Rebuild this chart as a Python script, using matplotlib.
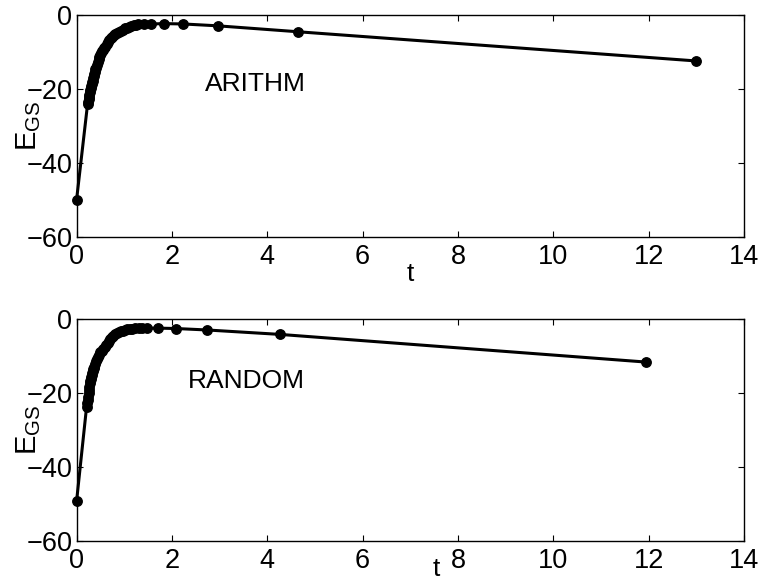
import matplotlib
matplotlib.use('Agg')
import matplotlib.pyplot as plt

plt.rcParams['font.family'] = ['Liberation Sans', 'DejaVu Sans']
plt.rcParams['mathtext.fontset'] = 'custom'
plt.rcParams['mathtext.rm'] = 'Liberation Sans'

# ARITHM schedule: temperature t vs ground state energy
t_arithm = [0.0, 0.23, 0.24, 0.25, 0.26, 0.27, 0.28, 0.29, 0.30, 0.31, 0.32,
            0.33, 0.34, 0.35, 0.36, 0.37, 0.38, 0.39, 0.40, 0.42, 0.44, 0.46,
            0.48, 0.50, 0.52, 0.54, 0.56, 0.58, 0.60, 0.63, 0.66, 0.69, 0.72,
            0.75, 0.78, 0.81, 0.85, 0.89, 0.93, 0.97, 1.01, 1.05, 1.10, 1.15,
            1.20, 1.25, 1.29, 1.42, 1.57, 1.83, 2.24, 2.96, 4.64, 13.0]
e_arithm = [-50.0, -24.2, -23.5, -22.9, -22.3, -21.6, -21.0, -20.4, -19.8,
            -19.3, -18.8, -18.3, -17.8, -17.2, -16.6, -16.0, -15.4, -14.8,
            -14.3, -13.5, -12.7, -12.0, -11.4, -10.8, -10.3, -9.9, -9.5, -9.0,
            -8.6, -8.0, -7.4, -6.9, -6.4, -6.0, -5.6, -5.3, -5.0, -4.6, -4.3,
            -4.0, -3.7, -3.5, -3.3, -3.1, -2.9, -2.7, -2.6, -2.5, -2.5, -2.4,
            -2.5, -3.0, -4.6, -12.5]

# RANDOM schedule
t_random = [0.0, 0.21, 0.22, 0.23, 0.24, 0.25, 0.26, 0.27, 0.28, 0.29, 0.30,
            0.31, 0.32, 0.33, 0.34, 0.35, 0.36, 0.37, 0.39, 0.41, 0.43, 0.45,
            0.47, 0.50, 0.53, 0.56, 0.59, 0.62, 0.65, 0.68, 0.71, 0.74, 0.77,
            0.81, 0.85, 0.89, 0.93, 0.97, 1.01, 1.06, 1.11, 1.17, 1.23, 1.30,
            1.37, 1.47, 1.71, 2.08, 2.74, 4.27, 11.95]
e_random = [-49.3, -23.7, -22.8, -21.9, -21.0, -20.1, -19.2, -18.3, -17.4,
            -16.8, -16.2, -15.6, -15.0, -14.5, -14.0, -13.6, -13.2, -12.8,
            -12.0, -11.3, -10.7, -10.1, -9.6, -9.0, -8.5, -8.0, -7.4, -6.9,
            -6.3, -5.8, -5.3, -4.9, -4.5, -4.1, -3.8, -3.5, -3.3, -3.1, -2.9,
            -2.75, -2.6, -2.5, -2.45, -2.4, -2.4, -2.4, -2.4, -2.5, -2.9,
            -4.1, -11.6]

xticks = [0, 2, 4, 6, 8, 10, 12, 14]
yticks = [-60, -40, -20, 0]

fig = plt.figure(figsize=(7.62, 5.82), dpi=100)
ax1 = fig.add_axes([0.1005, 0.5933, 0.876, 0.3814])
ax2 = fig.add_axes([0.1005, 0.0710, 0.876, 0.3804])

panels = [(ax1, t_arithm, e_arithm, 'ARITHM', (2.69, -18.6), (7.0, -70.0)),
          (ax2, t_random, e_random, 'RANDOM', (2.34, -16.8), (7.55, -67.6))]

for ax, t, e, name, tpos, xlpos in panels:
    ax.plot(t, e, '-o', color='black', lw=2.2, ms=6.8, mfc='black',
            mec='black', clip_on=False, zorder=3)
    ax.set_xlim(0, 14)
    ax.set_ylim(-60, 0)
    ax.set_xticks(xticks)
    ax.set_yticks(yticks)
    ax.tick_params(direction='in', top=True, right=True, length=4.5,
                   width=0.8, labelsize=19.5)
    ax.tick_params(axis='x', pad=5)
    ax.tick_params(axis='y', pad=3)
    for s in ax.spines.values():
        s.set_linewidth(1.0)
    ax.text(tpos[0], tpos[1], name, fontsize=19, va='center', ha='left')
    ax.text(xlpos[0], xlpos[1], 't', fontsize=19, ha='center', va='center',
            clip_on=False)
    ax.set_ylabel(r'$\mathrm{E_{GS}}$', fontsize=21)
    ax.yaxis.set_label_coords(-0.05, 0.5)

fig.savefig('out.png', dpi=100)
